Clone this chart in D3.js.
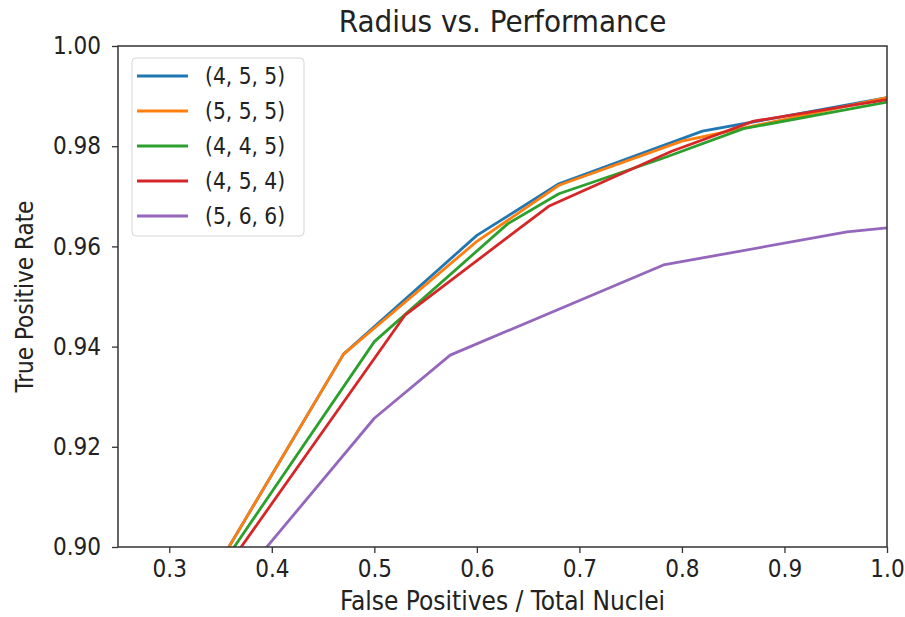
<!DOCTYPE html>
<html>
<head>
<meta charset="utf-8">
<script src="https://cdn.jsdelivr.net/npm/d3@7"></script>
<style>
body { margin: 0; background: #fff; }
text { font-family: "DejaVu Sans Condensed", "DejaVu Sans", sans-serif; fill: #222; }
</style>
</head>
<body>
<script>
// series labels and colours
const seriesNames = ["(4, 5, 5)", "(5, 5, 5)", "(4, 4, 5)", "(4, 5, 4)", "(5, 6, 6)"];
const seriesColors = ["#1f77b4", "#ff7f0e", "#2ca02c", "#d62728", "#9467bd"];

// x = false positives / total nuclei, y = true positive rate
const s455 = [[0.30,0.8800],[0.47,0.9385],[0.60,0.9622],[0.68,0.9725],[0.82,0.9830],[1.00,0.9897]];
const s555 = [[0.30,0.8800],[0.47,0.9385],[0.60,0.9610],[0.68,0.9722],[0.80,0.9810],[1.00,0.9897]];
const s445 = [[0.30,0.8810],[0.50,0.9410],[0.63,0.9645],[0.68,0.9705],[0.78,0.9775],[0.86,0.9835],[1.00,0.9888]];
const s454 = [[0.30,0.8797],[0.53,0.9463],[0.67,0.9680],[0.79,0.9790],[0.87,0.9850],[1.00,0.9893]];
const s566 = [[0.30,0.8767],[0.50,0.9257],[0.574,0.9383],[0.782,0.9563],[0.961,0.9629],[1.00,0.9637]];
const allSeries = [s455, s555, s445, s454, s566];

const xTicks = [0.3, 0.4, 0.5, 0.6, 0.7, 0.8, 0.9, 1.0];
const yTicks = [0.90, 0.92, 0.94, 0.96, 0.98, 1.00];

const width = 905, height = 617;
const margin = {top: 46, right: 18, bottom: 70, left: 118};

const svg = d3.select("body").append("svg")
  .attr("width", width)
  .attr("height", height);

const x = d3.scaleLinear().domain([0.25, 1.0]).range([margin.left, width - margin.right]);
const y = d3.scaleLinear().domain([0.90, 1.00]).range([height - margin.bottom, margin.top]);

svg.append("clipPath").attr("id", "plotclip")
  .append("rect")
  .attr("x", margin.left).attr("y", margin.top)
  .attr("width", width - margin.right - margin.left)
  .attr("height", height - margin.bottom - margin.top);

const line = d3.line().x(d => x(d[0])).y(d => y(d[1]));

svg.append("g").attr("clip-path", "url(#plotclip)")
  .selectAll("path")
  .data(allSeries)
  .enter().append("path")
  .attr("d", line)
  .attr("fill", "none")
  .attr("stroke", (d, i) => seriesColors[i])
  .attr("stroke-width", 2.8)
  .attr("stroke-linejoin", "round");

// axes
const xAxis = svg.append("g")
  .attr("transform", "translate(0," + (height - margin.bottom) + ")")
  .call(d3.axisBottom(x).tickValues(xTicks).tickFormat(d3.format(".1f")).tickSize(6).tickPadding(7));
const yAxis = svg.append("g")
  .attr("transform", "translate(" + margin.left + ",0)")
  .call(d3.axisLeft(y).tickValues(yTicks).tickFormat(d3.format(".2f")).tickSize(6).tickPadding(11));

[xAxis, yAxis].forEach(g => {
  g.select(".domain").remove();
  g.selectAll("line").attr("stroke", "#333").attr("stroke-width", 1.3);
  g.selectAll("text").attr("font-size", "24px").attr("fill", "#222")
    .style("font-family", "DejaVu Sans Condensed, DejaVu Sans, sans-serif");
});

// frame
svg.append("rect")
  .attr("x", margin.left).attr("y", margin.top)
  .attr("width", width - margin.right - margin.left)
  .attr("height", height - margin.bottom - margin.top)
  .attr("fill", "none")
  .attr("stroke", "#333")
  .attr("stroke-width", 1.5);

// title and labels
svg.append("text")
  .attr("x", (margin.left + width - margin.right) / 2)
  .attr("y", 32)
  .attr("text-anchor", "middle")
  .attr("font-size", "31px")
  .text("Radius vs. Performance");

svg.append("text")
  .attr("x", (margin.left + width - margin.right) / 2)
  .attr("y", 610)
  .attr("text-anchor", "middle")
  .attr("font-size", "26px")
  .text("False Positives / Total Nuclei");

svg.append("text")
  .attr("transform", "rotate(-90)")
  .attr("x", -(margin.top + height - margin.bottom) / 2)
  .attr("y", 33)
  .attr("text-anchor", "middle")
  .attr("font-size", "24px")
  .text("True Positive Rate");

// legend
const legend = svg.append("g").attr("transform", "translate(132,58)");
legend.append("rect")
  .attr("width", 172).attr("height", 178)
  .attr("rx", 4)
  .attr("fill", "#fff").attr("fill-opacity", 0.8)
  .attr("stroke", "#d6d6d6");

const items = legend.selectAll("g.item")
  .data(seriesNames)
  .enter().append("g")
  .attr("class", "item")
  .attr("transform", (d, i) => "translate(0," + (18 + i * 35) + ")");
items.append("line")
  .attr("x1", 5).attr("x2", 56)
  .attr("stroke", (d, i) => seriesColors[i])
  .attr("stroke-width", 2.8);
items.append("text")
  .attr("x", 73).attr("y", 8)
  .attr("font-size", "22.5px")
  .text(d => d);
</script>
</body>
</html>
